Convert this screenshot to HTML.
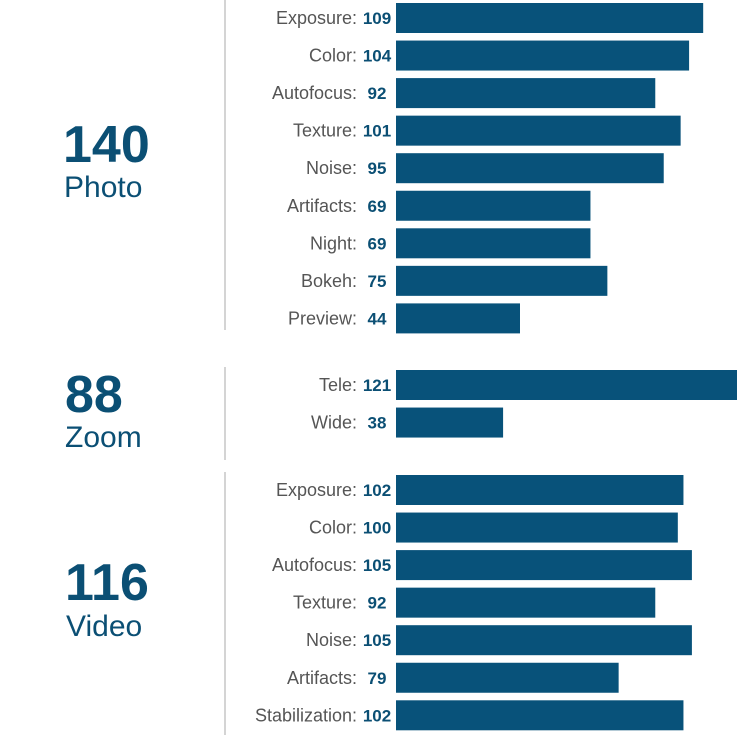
<!DOCTYPE html>
<html><head><meta charset="utf-8"><style>
body{margin:0;background:#fff;}
svg{display:block;font-family:"Liberation Sans",sans-serif;}
.lab{fill:#555;font-size:18px;}
.val{fill:#0b4f74;font-size:17px;font-weight:bold;}
.big{fill:#0b4f74;font-size:52px;font-weight:bold;}
.cat{fill:#0b4f74;font-size:30px;}
</style></head><body>
<svg id="chart" width="754" height="738" viewBox="0 0 754 738">
<g>
<text class="big" x="63" y="162">140</text>
<text class="cat" x="64" y="197">Photo</text>
<line x1="225" y1="0" x2="225" y2="330" stroke="#aaa"/>
</g>
<g>
<text class="big" x="65" y="412">88</text>
<text class="cat" x="65" y="447">Zoom</text>
<line x1="225" y1="367" x2="225" y2="460" stroke="#aaa"/>
</g>
<g>
<text class="big" x="65" y="600">116</text>
<text class="cat" x="66" y="636">Video</text>
<line x1="225" y1="472" x2="225" y2="735" stroke="#aaa"/>
</g>
<g id="bars"></g>
</svg>
<script>
const photoLabels=["Exposure","Color","Autofocus","Texture","Noise","Artifacts","Night","Bokeh","Preview"];
const photoValues=[109,104,92,101,95,69,69,75,44];
const zoomLabels=["Tele","Wide"];
const zoomValues=[121,38];
const videoLabels=["Exposure","Color","Autofocus","Texture","Noise","Artifacts","Stabilization"];
const videoValues=[102,100,105,92,105,79,102];
const x0=396, scale=341/121, rowH=37.55, barH=30;
const g=document.getElementById('bars');
const NS="http://www.w3.org/2000/svg";
function xLen(v){return v*scale;}
function drawGroup(labels,values,startY,prefix){
  labels.forEach((lab,i)=>{
    const cy=startY+i*rowH;
    const r=document.createElementNS(NS,'rect');
    
    
    r.setAttribute('x',x0);r.setAttribute('y',cy-barH/2);
    r.setAttribute('width',xLen(values[i]));r.setAttribute('height',barH);
    r.setAttribute('fill','#08527a');
    g.appendChild(r);
    const t=document.createElementNS(NS,'text');
    
    
    t.setAttribute('class','lab');t.setAttribute('x',357);t.setAttribute('y',cy+6);
    t.setAttribute('text-anchor','end');t.textContent=lab+':';
    g.appendChild(t);
    const v=document.createElementNS(NS,'text');
    
    
    v.setAttribute('class','val');v.setAttribute('x',377);v.setAttribute('y',cy+6);
    v.setAttribute('text-anchor','middle');v.textContent=values[i];
    g.appendChild(v);
  });
}
drawGroup(photoLabels,photoValues,18,'photo');
drawGroup(zoomLabels,zoomValues,385,'zoom');
drawGroup(videoLabels,videoValues,490,'video');
</script>
</body></html>
